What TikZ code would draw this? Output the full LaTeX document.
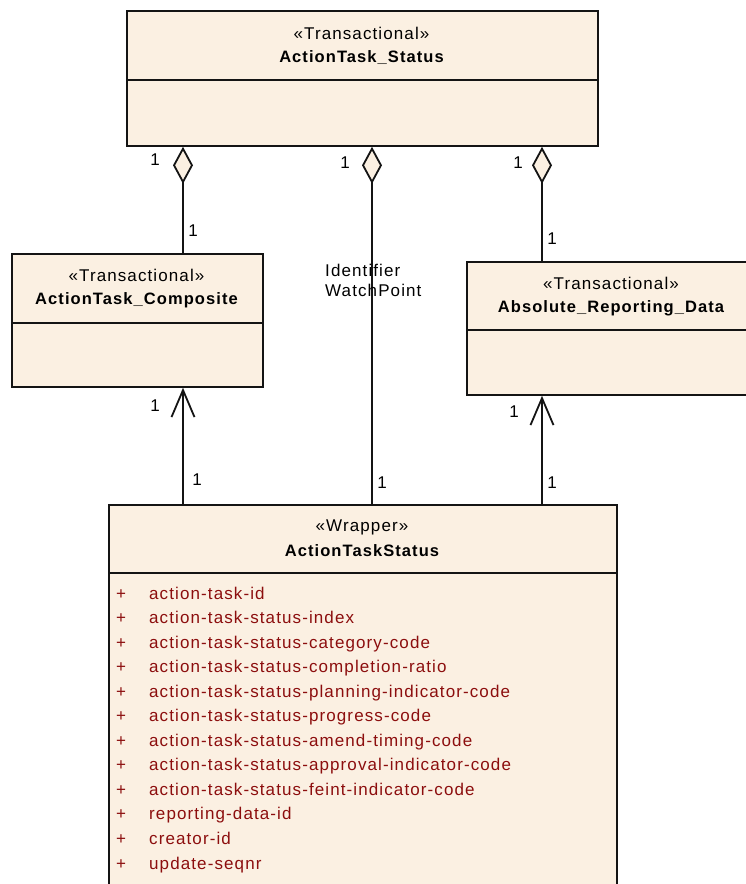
\documentclass[tikz,border=0pt]{standalone}
\usepackage{fontspec}
\setmainfont[LetterSpace=6.5]{Liberation Sans}
\usetikzlibrary{arrows.meta}
\definecolor{boxfill}{RGB}{251,240,226}
\definecolor{attrred}{RGB}{140,14,14}
\definecolor{edge}{RGB}{20,20,20}
\tikzset{
  classbox/.style={draw=edge, fill=boxfill, line width=1.8pt, anchor=north west, inner sep=0pt},
  sep/.style={draw=edge, line width=1.8pt},
  stereo/.style={font=\fontsize{17}{19}\selectfont, inner sep=0pt},
  cname/.style={font=\fontsize{16.5}{19}\selectfont\bfseries, inner sep=0pt},
  mult/.style={font=\fontsize{17}{19}\selectfont, inner sep=0pt},
  attr/.style={font=\fontsize{17}{19}\selectfont, text=attrred, inner sep=0pt, anchor=base west},
  conn/.style={draw=edge, line width=1.8pt},
  agg/.style={conn, {Diamond[length=37pt,width=20pt,fill=boxfill,line width=1.8pt]}-},
  nav/.style={conn, -{Straight Barb[length=27pt,width=23pt,line width=1.8pt]}},
}
\begin{document}
\begin{tikzpicture}[x=1pt,y=-1pt]
\useasboundingbox (0,0) rectangle (746,884);
\clip (0,0) rectangle (746,884);
% boxes
\node[classbox, minimum width=471pt, minimum height=135pt] (top) at (126,10) {};
\draw[sep] (126,80) -- (597,80);
\node[stereo] (topst) at (361.5,33) {«Transactional»};
\node[cname] (topnm) at (361.5,58) {ActionTask\_Status};

\node[classbox, minimum width=251pt, minimum height=133pt] (left) at (11,253) {};
\draw[sep] (11,323) -- (262,323);
\node[stereo] (leftst) at (136.5,275) {«Transactional»};
\node[cname] (leftnm) at (136.5,300) {ActionTask\_Composite};

\node[classbox, minimum width=300pt, minimum height=133pt] (right) at (466,261) {};
\draw[sep] (466,330) -- (766,330);
\node[stereo] (rightst) at (611,283) {«Transactional»};
\node[cname] (rightnm) at (611,308) {Absolute\_Reporting\_Data};

\node[classbox, minimum width=508pt, minimum height=400pt] (bot) at (108,504) {};
\draw[sep] (108,573) -- (616,573);
\node[stereo] (botst) at (362,527) {«Wrapper»};
\node[cname] (botnm) at (362,551) {ActionTaskStatus};

% attributes
\foreach \t [count=\i from 0] in {action-task-id,action-task-status-index,action-task-status-category-code,action-task-status-completion-ratio,action-task-status-planning-indicator-code,action-task-status-progress-code,action-task-status-amend-timing-code,action-task-status-approval-indicator-code,action-task-status-feint-indicator-code,reporting-data-id,creator-id,update-seqnr}{
  \node[attr] (plus\i) at (116,{599+24.55*\i}) {+};
  \node[attr] (attr\i) at (149,{599+24.55*\i}) {\t};
}

% aggregations
\draw[agg] (top.south -| 183,0) -- (left.north -| 183,0);
\draw[agg] (top.south -| 372,0) -- (bot.north -| 372,0);
\draw[agg] (top.south -| 542,0) -- (right.north -| 542,0);
% navigations
\draw[nav] (bot.north -| 183,0) -- (left.south -| 183,0);
\draw[nav] (bot.north -| 542,0) -- (right.south -| 542,0);

% multiplicities
\node[mult] (m1) at (155,160) {1};
\node[mult] (m2) at (345,163) {1};
\node[mult] (m3) at (518,163) {1};
\node[mult] (m4) at (193,231) {1};
\node[mult] (m5) at (552,239) {1};
\node[mult] (m6) at (155,406) {1};
\node[mult] (m7) at (197,480) {1};
\node[mult] (m8) at (382,483) {1};
\node[mult] (m9) at (514,412) {1};
\node[mult] (m10) at (552,483) {1};
% role label
\node[mult, anchor=west, align=left] (role) at (325,280) {Identifier\\[1pt]WatchPoint};
\end{tikzpicture}
\end{document}
